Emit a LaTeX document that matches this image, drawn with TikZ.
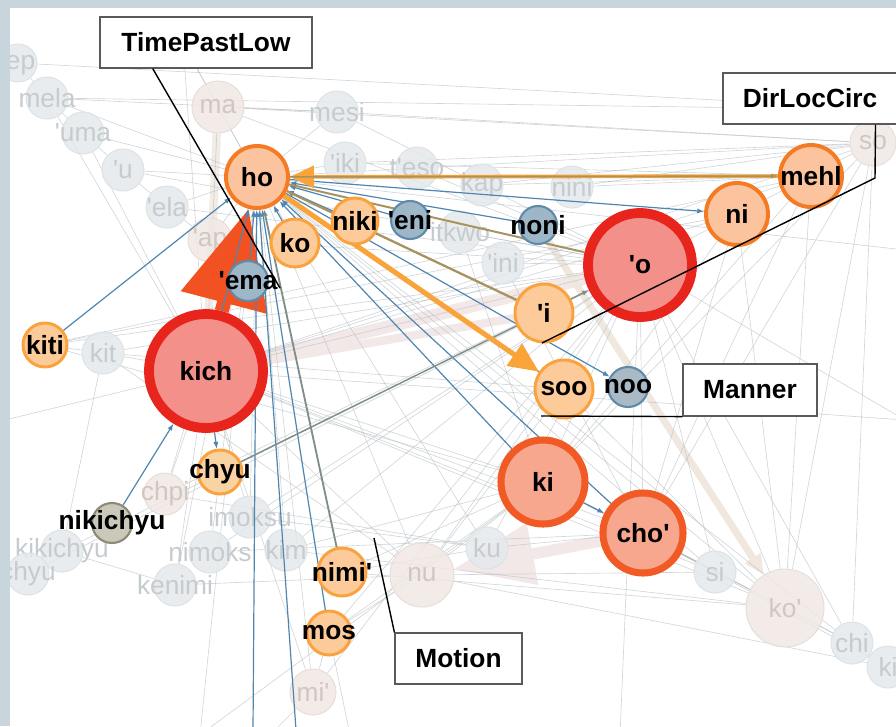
\documentclass[tikz,border=0pt]{standalone}
\usepackage{fontspec}
\setmainfont{Liberation Sans}[Ligatures=TeXOff]
\usetikzlibrary{arrows.meta,positioning,calc}
\definecolor{frame}{HTML}{C8D5DD}
\definecolor{fgfill}{HTML}{E4E9EC}
\definecolor{fgrim}{HTML}{DCE2E6}
\definecolor{fgtxt}{HTML}{C6CBCF}
\definecolor{fbfill}{HTML}{F0E8E3}
\definecolor{fbrim}{HTML}{E8DED8}
\definecolor{fbtxt}{HTML}{D0C7C3}
\definecolor{orfill}{HTML}{FBC49E}
\definecolor{orrim}{HTML}{F47B24}
\definecolor{ltfill}{HTML}{FDCB99}
\definecolor{ltrim}{HTML}{F9A23E}
\definecolor{chyufill}{HTML}{F9D4A2}
\definecolor{rdfill}{HTML}{F4908A}
\definecolor{rdrim}{HTML}{E8251C}
\definecolor{kifill}{HTML}{F6A78E}
\definecolor{kirim}{HTML}{F15A24}
\definecolor{blfill}{HTML}{9DB6C8}
\definecolor{noofill}{HTML}{A9B9C5}
\definecolor{blrim}{HTML}{5F8AA8}
\definecolor{mossfill}{HTML}{CAC8B8}
\definecolor{mossrim}{HTML}{8C8A74}
\definecolor{eblue}{HTML}{4F86B0}
\definecolor{eorange}{HTML}{F9A33B}
\definecolor{eolive}{HTML}{A8925E}
\definecolor{egrey}{HTML}{7F8E89}
\definecolor{fline}{HTML}{B4BCC1}
\definecolor{flowcol}{HTML}{F25221}
\definecolor{pinkband}{HTML}{F3E8E8}
\definecolor{tanband}{HTML}{F0E7DE}
\definecolor{beigeband}{HTML}{F2ECE7}
\definecolor{tagrim}{HTML}{5A5A5A}
\newcommand\boldlbl{\fontsize{18.7}{20}\selectfont\bfseries}
\newcommand\dimlbl{\fontsize{18.7}{20}\selectfont}
\pgfdeclarelayer{faded}
\pgfdeclarelayer{ghost}
\pgfdeclarelayer{wires}
\pgfsetlayers{faded,ghost,wires,main}
\tikzset{
  bub/.style={circle,inner sep=0pt,minimum size=#1*0.05cm,
    execute at begin node={\hbox to 0pt\bgroup\hss},
    execute at end node={\hss\egroup}},
  weak/.style={bub=#1,draw=fgrim,fill=fgfill,line width=0.7pt,text=fgtxt,font=\dimlbl,fill opacity=0.85,text opacity=1},
  weakb/.style={weak=#1,draw=fbrim,fill=fbfill,text=fbtxt},
  hot/.style={bub=#1,draw=orrim,fill=orfill,line width=2.8pt,font=\boldlbl},
  warm/.style={bub=#1,draw=ltrim,fill=ltfill,line width=2.1pt,font=\boldlbl},
  fire/.style={bub=#1,draw=rdrim,fill=rdfill,line width=7pt,font=\boldlbl},
  ember/.style={bub=#1,draw=kirim,fill=kifill,line width=5pt,font=\boldlbl},
  cool/.style={bub=#1,draw=blrim,fill=blfill,line width=1.5pt,font=\boldlbl},
  moss/.style={bub=#1,draw=mossrim,fill=mossfill,line width=1.5pt,font=\boldlbl},
  tag/.style={draw=tagrim,fill=white,line width=0.8pt,font=\boldlbl,inner sep=0pt},
  faintln/.style={draw=fline,line width=0.45pt,opacity=0.6},
  haze/.style={draw=#1},
  wire/.style={draw=eblue,line width=0.85pt,-{Latex[length=1.7mm,width=1.3mm]}},
  sage/.style={draw=egrey,line width=1.3pt,-{Latex[length=1.7mm,width=1.3mm]}},
  orng/.style={draw=eorange},
  olv/.style={draw=eolive},
  bigflow/.style={draw=flowcol,line width=10pt,-{Triangle[length=2.42cm,width=2.14cm]}},
  callout/.style={draw=black,line width=1pt},
}
\begin{document}
\begin{tikzpicture}[x=0.025cm,y=-0.025cm]
  \useasboundingbox (0,0) rectangle (896,726);
  \begin{pgfonlayer}{faded}
    \fill[white] (0,0) rectangle (896,726);
  \end{pgfonlayer}

  % background words
  \begin{pgfonlayer}{ghost}
    \foreach \nm/\x/\y/\r/\txt in {ep/18/63/19/'ep,mela/47/98/21/mela,uma/83/133/21/'uma,
      u/123/170/21/'u,ela/167/207/21/'ela,mesi/337/112/21/mesi,iki/345/163/21/'iki,
      eso/417/168/21/t'eso,kap/482/185/21/kap,nini/572/187/21/nini,itkwo/460/232/21/itkwo,
      ini/503/263/21/'ini,kit/103/353/21/kit,imoksu/250/517/21/imoksu,
      kikichyu/62/551/21/kikichyu,chyu2/28/574/21/chyu,nimoks/210/552/21/nimoks,
      kim/286/550/21/kim,kenimi/175/585/21/kenimi,ku/487/548/21/ku,si/715/572/21/si,
      chi/852/643/21/chi,kir/888/667/21/ki}
      \node[weak=\r] (\nm) at (\x,\y) {\txt};
    \foreach \nm/\x/\y/\r/\txt in {tp/183/43/26/{},ma/218/107/26/ma,ap/210/240/22/'ap,
      so/873/143/23/so,chpi/165/494/21/chpi,nu/422/575/32/nu,mi/313/692/23/mi',
      kop/785/608/39/ko'}
      \node[weakb=\r] (\nm) at (\x,\y) {\txt};
  \end{pgfonlayer}

  % strong words
  \node[hot=31] (ho) at (257,177) {ho};
  \node[warm=24] (ko) at (295,243) {ko};
  \node[warm=23] (niki) at (355,221) {niki};
  \node[cool=19] (eni) at (410,220) {'eni};
  \node[cool=19] (noni) at (538,225) {noni};
  \node[warm=29] (i) at (544,313) {'i};
  \node[fire=52] (o) at (640,265) {'o};
  \node[hot=31] (ni) at (737,214) {ni};
  \node[hot=31] (mehl) at (811,176) {mehl};
  \node[warm=29] (soo) at (564,389) {soo};
  \node[cool=20,fill=noofill] (noo) at (628,387) {noo};
  \node[ember=42] (ki) at (543,482) {ki};
  \node[ember=40] (cho) at (643,533) {cho'};
  \node[fire=57] (kich) at (206,371) {kich};
  \node[warm=22] (kiti) at (45,345) {kiti};
  \node[cool=20] (ema) at (248,281) {'ema};
  \node[warm=22,fill=chyufill] (chyu) at (220,472) {chyu};
  \node[moss=20] (nikichyu) at (112,523) {nikichyu};
  \node[warm=24] (nimi) at (342,572) {nimi'};
  \node[warm=22] (mos) at (329,633) {mos};

  \coordinate (offR1) at (905,110);
  \coordinate (offR2) at (905,250);
  \coordinate (offR3) at (905,420);
  \coordinate (offB1) at (270,735);
  \coordinate (offB2) at (350,735);
  \coordinate (offB3) at (200,735);
  \coordinate (offB4) at (620,735);
  \coordinate (offL1) at (5,420);
  \coordinate (b1) at (253,730);
  \coordinate (b2) at (296,730);

  % faint links
  \begin{pgfonlayer}{faded}
    \draw[haze=pinkband,line width=9pt] (kich) -- (o);
    \draw[haze=pinkband,line width=6pt] (kich) -- (i);
    \draw[haze=beigeband,line width=6pt] (ma) -- (kich);
    \draw[haze=tanband,line width=5pt,-{Triangle[length=0.5cm,width=0.45cm]}] (noni) -- (kop);
    \draw[haze=pinkband,line width=8pt,-{Triangle[length=2cm,width=1.5cm]}] (cho) -- (nu);
    \foreach \a/\b in {ho/ma,ho/tp,ho/mela,ho/uma,ho/u,ho/ela,ho/ap,ho/mesi,ho/iki,ho/so,
      ho/kop,ho/nu,ho/mi,ho/ku,ho/si,ho/chi,ho/offR2,ho/kim,ho/imoksu,ho/nimoks,ho/kenimi,
      ho/chpi,ho/offB3,kich/o,kich/ki,kich/nu,kich/kit,kich/chpi,kich/imoksu,kich/kenimi,
      kich/kop,kich/offL1,kich/mi,kich/si,kich/so,kich/mehl,kich/ni,kich/offR3,kich/cho,
      o/ki,o/cho,o/nu,o/ku,o/mi,o/kit,o/so,o/ma,o/mesi,o/kop,o/si,o/chi,o/kikichyu,
      o/nimoks,o/kim,o/mos,o/kiti,o/offR3,o/offB4,o/imoksu,o/chpi,ki/nu,ki/kop,ki/si,
      ki/mos,ki/kiti,ki/mehl,ki/ni,ki/so,ki/offB3,ki/kim,ki/nimi,cho/kop,cho/si,cho/ku,
      cho/chi,cho/kir,cho/mehl,cho/ni,cho/so,soo/kop,soo/nu,soo/kit,mehl/kop,ni/kop,
      so/kop,so/chi,kop/chi,chi/kir,nu/kir,nu/si,mesi/so,ma/so,iki/so,kap/so,nini/so,
      ma/mesi,tp/ma,ep/mela,mela/uma,uma/u,u/ela,ela/ap,mela/offR1,mela/mesi,ep/offR1,
      mi/mos,nu/mos,mi/offB1,mos/offB2,nimi/kop,nimi/ku,kiti/kit,kit/kikichyu,chyu2/o,
      kikichyu/kenimi,kit/nu,kiti/ni,kiti/mehl,chpi/ku,kenimi/nu,imoksu/ku,nimoks/cho,
      kim/kop,eso/o,kap/mehl,nini/mehl,iki/mehl,itkwo/o,ini/o,itkwo/ki,ini/cho,ap/o,
      ela/o,u/o,uma/kich,ma/kich,tp/kich,mela/kich}
      \draw[faintln] (\a) -- (\b);
  \end{pgfonlayer}

  % strong links
  \begin{pgfonlayer}{wires}
    \draw[bigflow] (kich) -- (ho);
    \foreach \src in {kiti,b1,b2,mos,ema,ko,niki,eni,noni,ki,cho,kich,i,soo}
      \draw[wire] (\src) -- (ho);
    \draw[wire] (ho) -- (noo);
    \draw[wire] (ho) -- (ni);
    \draw[wire] (kich) -- (chyu);
    \draw[wire] (nikichyu) -- (kich);
    \draw[wire] (ki) -- (cho);
    \draw[sage] (nimi) -- (ho);
    \draw[sage,line width=1pt] (chyu) -- (o);
    \draw[olv,line width=1.6pt] (ho) -- (i);
    \draw[olv,line width=1.4pt] (ho) -- (o);
    \draw[orng,line width=3.6pt,-{Triangle[length=0.75cm,width=0.65cm]}] (ho) -- (soo);
    \draw[orng,line width=2.6pt,-{Triangle[length=0.6cm,width=0.55cm]}] (mehl) -- (ho);
    \draw[olv,line width=1.1pt,-{Latex[length=1.7mm,width=1.3mm]}] (ho) -- (mehl);
  \end{pgfonlayer}

  % category labels
  \node[tag,minimum width=5.3cm,minimum height=1.275cm] (tpl) at (206,42.5) {TimePastLow};
  \node[tag,minimum width=4.35cm,minimum height=1.275cm] (dlc) at (810,98.5) {DirLocCirc};
  \node[tag,minimum width=3.35cm,minimum height=1.3cm] (man) at (750,390) {Manner};
  \node[tag,minimum width=3.175cm,minimum height=1.275cm] (mot) at (458.5,658.5) {Motion};
  \coordinate (tplend) at (280,288);
  \coordinate (dlcknee) at (875,178);
  \coordinate (dlcend) at (542,343);
  \coordinate (manend) at (541,416);
  \coordinate (motend) at (374,538);
  \draw[callout] ($(tpl.south west)!0.25!(tpl.south east)$) -- (tplend);
  \draw[callout] ($(dlc.south west)!0.874!(dlc.south east)$) -- (dlcknee) -- (dlcend);
  \draw[callout] (manend) -- (man.south west);
  \draw[callout] (motend) -- (mot.north west);

  \fill[frame] (0,0) rectangle (10,726);
  \fill[frame] (0,0) rectangle (896,8);
\end{tikzpicture}
\end{document}
